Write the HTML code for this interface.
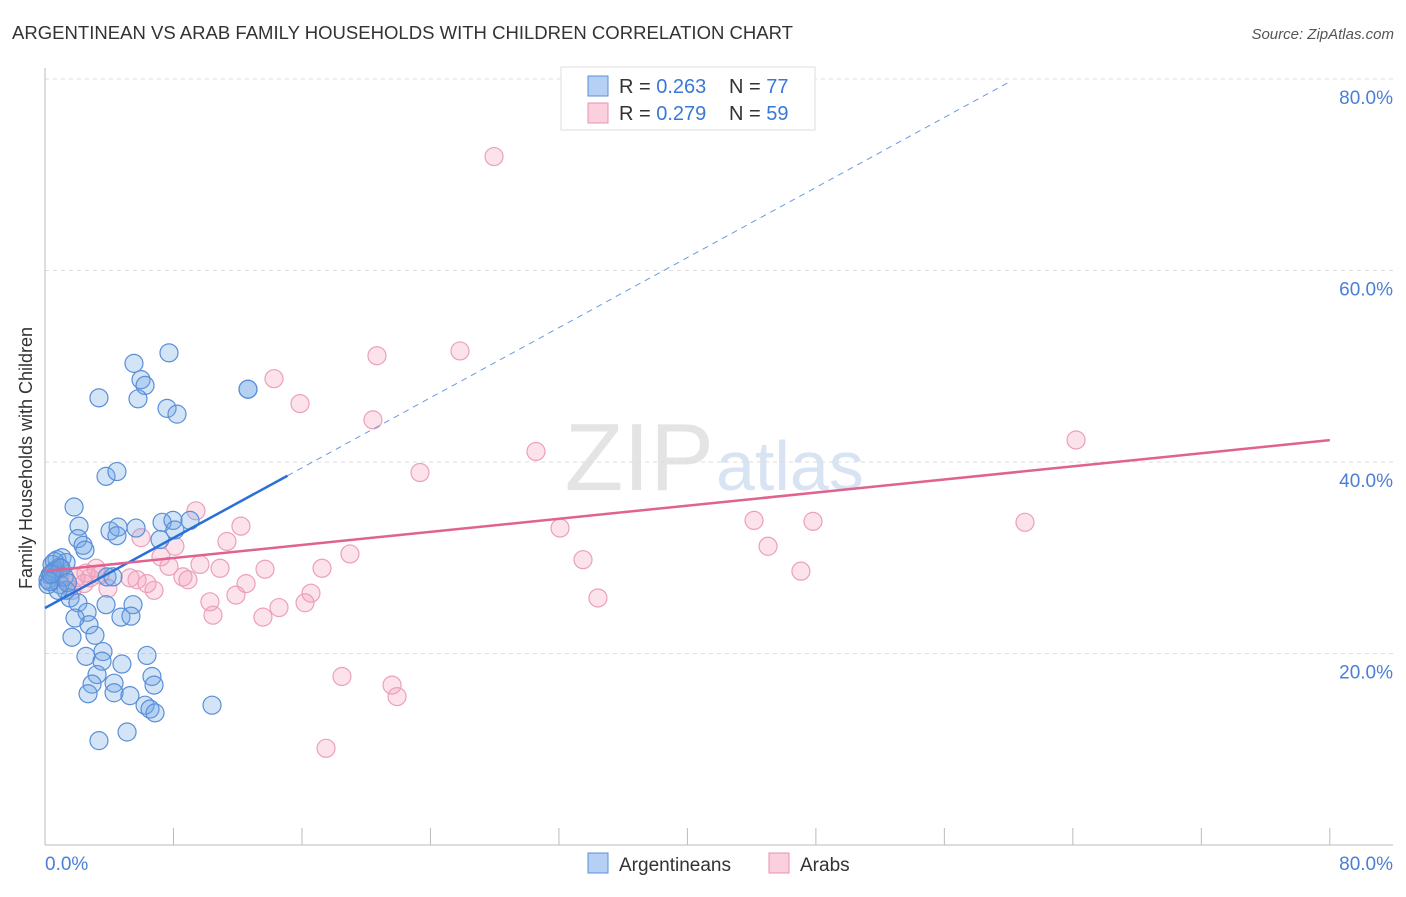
<!DOCTYPE html>
<html><head><meta charset="utf-8"><style>
body{margin:0;background:#fff;font-family:"Liberation Sans",sans-serif}
svg text{font-family:"Liberation Sans",sans-serif}
</style></head><body>
<svg id="chart" width="1406" height="892">
<text x="12" y="39" font-size="18" fill="#333" textLength="781" lengthAdjust="spacingAndGlyphs">ARGENTINEAN VS ARAB FAMILY HOUSEHOLDS WITH CHILDREN CORRELATION CHART</text>
<text x="1394" y="39" font-size="15" fill="#555" font-style="italic" text-anchor="end">Source: ZipAtlas.com</text>
<text x="714" y="490" font-size="96" fill="#e4e4e4" text-anchor="end" font-family="Liberation Serif">ZIP</text>
<text x="716" y="490" font-size="70" fill="#d8e4f4">atlas</text>
<g id="grid"></g>
<g id="axes"></g>
<g id="pts"></g>
<g id="lines"></g>
<text x="32" y="458" font-size="18" fill="#333" text-anchor="middle" transform="rotate(-90 32 458)">Family Households with Children</text>
<text x="45" y="870" font-size="19" fill="#4a7fd6">0.0%</text>
<text x="1393" y="870" font-size="19" fill="#4a7fd6" text-anchor="end">80.0%</text>
<g>
<rect x="561" y="67" width="254" height="63" fill="#fff" stroke="#ddd"/>
<rect x="588" y="76" width="20" height="20" fill="#b5d0f4" stroke="#5a8ed8"/>
<text x="619" y="93" font-size="20" fill="#333">R = <tspan fill="#3a78d8">0.263</tspan></text>
<text x="729" y="93" font-size="20" fill="#333">N = <tspan fill="#3a78d8">77</tspan></text>
<rect x="588" y="103" width="20" height="20" fill="#fbd0de" stroke="#e891b0"/>
<text x="619" y="120" font-size="20" fill="#333">R = <tspan fill="#3a78d8">0.279</tspan></text>
<text x="729" y="120" font-size="20" fill="#333">N = <tspan fill="#3a78d8">59</tspan></text>
</g>
<g>
<rect x="588" y="853" width="20" height="20" fill="#b5d0f4" stroke="#5a8ed8"/>
<text x="619" y="871" font-size="19" fill="#333">Argentineans</text>
<rect x="769" y="853" width="20" height="20" fill="#fbd0de" stroke="#e891b0"/>
<text x="800" y="871" font-size="19" fill="#333">Arabs</text>
</g>
</svg>
<script>
const yTicks=[20,40,60,80];
const yTickLabels=["20.0%","40.0%","60.0%","80.0%"];
const xTicks=[0,8,16,24,32,40,48,56,64,72,80];
const blueX=[7.72,5.54,5.98,6.23,3.36,5.79,7.60,8.22,12.64,12.64,3.80,4.48,1.81,2.12,2.05,2.37,2.49,4.05,4.55,4.48,5.67,7.29,7.97,8.09,9.03,7.16,0.75,1.06,1.31,0.44,0.62,0.31,0.19,0.93,1.31,3.86,4.23,1.56,2.05,2.62,2.74,3.11,1.68,1.87,3.80,5.48,4.73,5.35,2.55,3.61,3.55,4.79,6.35,6.66,3.24,6.79,2.93,4.30,2.68,4.30,5.29,6.23,6.54,6.85,10.40,3.36,5.11,0.81,0.19,0.5,0.9,1.2,0.3,0.6,1.0,1.4,0.4];
const blueY=[51.4,50.3,48.6,48.0,46.7,46.6,45.6,45.0,47.6,47.6,38.5,39.0,35.3,33.3,32.0,31.3,30.8,32.8,33.2,32.3,33.1,33.7,33.9,32.9,33.9,31.9,29.8,30.0,29.5,29.3,28.7,28.2,27.7,27.2,26.6,28.0,28.0,25.8,25.3,24.3,23.0,21.9,21.7,23.7,25.1,25.1,23.8,23.9,19.7,20.2,19.2,18.9,19.8,17.6,17.8,16.7,16.8,16.9,15.8,15.9,15.6,14.6,14.2,13.8,14.6,10.9,11.8,26.6,27.2,28.5,29.0,28.0,27.5,29.6,28.9,27.4,28.3];
const pinkX=[27.96,20.67,25.84,14.26,15.88,20.42,30.57,64.20,23.35,9.40,12.20,32.07,44.15,47.82,61.02,45.02,33.50,47.07,34.43,18.99,17.25,7.22,8.09,5.98,11.33,9.65,10.90,13.70,7.72,5.29,5.73,8.90,8.59,6.35,6.79,12.52,10.27,10.46,11.89,13.57,14.57,16.19,16.56,18.49,21.61,21.92,17.50,3.92,3.18,2.80,2.55,1.93,1.31,0.93,0.62,0.44,1.68,2.43,3.42];
const pinkY=[71.9,51.1,51.6,48.7,46.1,44.4,41.1,42.3,38.9,34.9,33.3,33.1,33.9,33.8,33.7,31.2,29.8,28.6,25.8,30.4,28.9,30.1,31.2,32.1,31.7,29.3,28.9,28.8,29.1,27.9,27.7,27.7,28.0,27.3,26.6,27.3,25.4,24.0,26.1,23.8,24.8,25.3,26.3,17.6,16.7,15.5,10.1,26.8,28.9,27.9,28.4,27.9,27.7,28.2,28.6,27.7,26.6,27.3,28.2];
const blueTrend=[24.75,0.915];
const pinkTrend=[28.6,0.171];
const NS='http://www.w3.org/2000/svg';
const X=v=>45+v*16.06, Y=v=>845-v*9.575;
function mk(t,a,p){const e=document.createElementNS(NS,t);for(const k in a)e.setAttribute(k,a[k]);p.appendChild(e);return e;}
const grid=document.getElementById('grid'),axes=document.getElementById('axes'),pts=document.getElementById('pts'),lines=document.getElementById('lines');
yTicks.forEach((v,i)=>{
 const l=mk('line',{x1:45,x2:1393,y1:Y(v),y2:Y(v),stroke:'#ddd','stroke-dasharray':'4,4'},grid);
 
 
 const t=mk('text',{x:1393,y:Y(v)+25,'font-size':19,fill:'#4a7fd6','text-anchor':'end'},grid);
 t.textContent=yTickLabels[i];
 
 
});
const ya=mk('line',{x1:45,x2:45,y1:68,y2:845,stroke:'#bbb'},axes);


const xa=mk('line',{x1:45,x2:1393,y1:845,y2:845,stroke:'#bbb'},axes);


xTicks.forEach(v=>{
 const t=mk('line',{x1:X(v),x2:X(v),y1:828,y2:845,stroke:'#bbb'},axes);
 
 
});
pinkX.forEach((x,i)=>{
 const c=mk('circle',{cx:X(x),cy:Y(pinkY[i]),r:9,fill:'rgba(244,160,188,0.3)',stroke:'#eba0bb','stroke-width':1.2},pts);
 
 
});
blueX.forEach((x,i)=>{
 const c=mk('circle',{cx:X(x),cy:Y(blueY[i]),r:9,fill:'rgba(110,165,230,0.3)',stroke:'#5a8ed8','stroke-width':1.2},pts);
 
 
});
const bs=mk('line',{x1:X(0),y1:Y(blueTrend[0]),x2:X(15.1),y2:Y(blueTrend[0]+blueTrend[1]*15.1),stroke:'#2a6fd6','stroke-width':2.5},lines);


const bd=mk('line',{x1:X(15.1),y1:Y(blueTrend[0]+blueTrend[1]*15.1),x2:X(60.1),y2:Y(blueTrend[0]+blueTrend[1]*60.1),stroke:'#6a9ae0','stroke-width':1,'stroke-dasharray':'6,5'},lines);


const pl=mk('line',{x1:X(0),y1:Y(pinkTrend[0]),x2:X(80),y2:Y(pinkTrend[0]+pinkTrend[1]*80),stroke:'#e0628e','stroke-width':2.5},lines);


</script>
</body></html>
